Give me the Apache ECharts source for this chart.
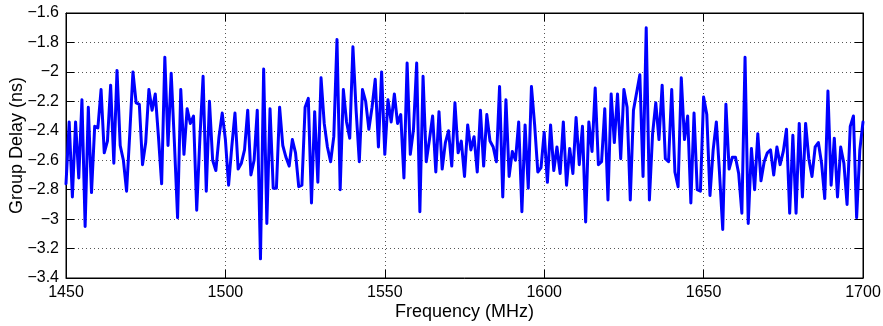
<!DOCTYPE html>
<html>
<head>
<meta charset="utf-8">
<script src="https://cdn.jsdelivr.net/npm/echarts@6/dist/echarts.min.js"></script>
<style>
html,body{margin:0;padding:0;background:#fff;}
#chart{width:883px;height:326px;}
</style>
</head>
<body>
<div id="chart"></div>
<script>
// Frequency axis: 1450..1700 MHz, 1 MHz step
var freqStart = 1450;
var freqStep = 1;
var xTicks = [1450, 1500, 1550, 1600, 1650, 1700];
var yTicks = [-3.4, -3.2, -3, -2.8, -2.6, -2.4, -2.2, -2, -1.8, -1.6];

// Group delay values (ns)
var delay = [
 -2.76,-2.34,-2.85,-2.34,-2.72,-2.19,-3.05,-2.24,-2.82,-2.37,
 -2.38,-2.12,-2.55,-2.47,-2.09,-2.62,-1.99,-2.50,-2.60,-2.81,
 -2.42,-2.00,-2.21,-2.22,-2.63,-2.48,-2.12,-2.26,-2.15,-2.44,
 -2.76,-1.90,-2.50,-2.01,-2.48,-2.99,-2.12,-2.56,-2.25,-2.35,
 -2.30,-2.94,-2.45,-2.03,-2.81,-2.20,-2.60,-2.67,-2.44,-2.28,
 -2.46,-2.77,-2.51,-2.28,-2.66,-2.62,-2.53,-2.26,-2.70,-2.60,
 -2.26,-3.27,-1.98,-3.03,-2.25,-2.79,-2.79,-2.24,-2.50,-2.58,
 -2.64,-2.46,-2.55,-2.78,-2.77,-2.24,-2.18,-2.89,-2.27,-2.75,
 -2.04,-2.35,-2.51,-2.61,-2.44,-1.78,-2.80,-2.12,-2.34,-2.45,
 -1.83,-2.26,-2.61,-2.12,-2.20,-2.39,-2.24,-2.05,-2.51,-2.00,
 -2.56,-2.19,-2.34,-2.15,-2.35,-2.29,-2.72,-1.94,-2.56,-2.39,
 -1.94,-2.95,-2.03,-2.61,-2.46,-2.30,-2.68,-2.27,-2.66,-2.48,
 -2.40,-2.64,-2.21,-2.55,-2.47,-2.71,-2.36,-2.53,-2.44,-2.68,
 -2.26,-2.64,-2.29,-2.47,-2.51,-2.61,-2.10,-2.85,-2.19,-2.71,
 -2.54,-2.60,-2.34,-2.95,-2.36,-2.79,-2.10,-2.36,-2.68,-2.65,
 -2.41,-2.75,-2.36,-2.67,-2.51,-2.69,-2.34,-2.77,-2.52,-2.69,
 -2.31,-2.63,-2.37,-3.02,-2.34,-2.54,-2.11,-2.63,-2.61,-2.25,
 -2.87,-2.15,-2.48,-2.15,-2.59,-2.12,-2.24,-2.87,-2.26,-2.14,
 -2.02,-2.71,-1.70,-2.87,-2.42,-2.21,-2.46,-2.09,-2.59,-2.61,
 -2.12,-2.68,-2.78,-2.04,-2.46,-2.30,-2.89,-2.28,-2.80,-2.81,
 -2.17,-2.29,-2.84,-2.53,-2.34,-2.69,-3.07,-2.22,-2.66,-2.58,
 -2.58,-2.69,-2.96,-1.90,-3.03,-2.52,-2.80,-2.42,-2.74,-2.61,
 -2.55,-2.53,-2.70,-2.51,-2.63,-2.54,-2.39,-2.96,-2.43,-2.96,
 -2.35,-2.85,-2.35,-2.59,-2.71,-2.51,-2.48,-2.62,-2.86,-2.13,
 -2.77,-2.45,-2.85,-2.51,-2.62,-2.90,-2.37,-2.30,-2.99,-2.53,
 -2.34
];

var points = delay.map(function (v, i) { return [freqStart + i * freqStep, v]; });

function fmtY(v) {
  var s = (Math.round(v * 10) / 10).toFixed(1);
  if (s.slice(-2) === '.0') s = s.slice(0, -2);
  return s.replace('-', '\u2212');
}
function fmtX(v) { return String(Math.round(v)); }

var FONT = 'Liberation Sans, Arial, Helvetica, sans-serif';
var chart = echarts.init(document.getElementById('chart'), null, {renderer: 'canvas'});
var gridLine = {show: true, lineStyle: {color: '#555', width: 1, type: [1, 3]}};
var tick = {show: true, inside: true, length: 8, lineStyle: {color: '#000', width: 1}};

chart.setOption({
  animation: false,
  backgroundColor: '#fff',
  grid: {left: 66, right: 20, top: 13, bottom: 48, containLabel: false, outerBoundsMode: 'none',
         show: true, borderColor: '#000', borderWidth: 1, backgroundColor: '#fff'},
  xAxis: [{
    type: 'value', min: xTicks[0], max: xTicks[xTicks.length - 1], interval: 50,
    position: 'bottom',
    name: 'Frequency (MHz)', nameLocation: 'middle', nameGap: 25, nameMoveOverlap: false,
    nameTextStyle: {fontFamily: FONT, fontSize: 18, color: '#000'},
    axisLine: {show: true, lineStyle: {color: '#000', width: 1}},
    axisTick: tick,
    axisLabel: {fontFamily: FONT, fontSize: 16, color: '#000', margin: 7, formatter: fmtX},
    splitLine: gridLine
  }, {
    type: 'value', min: xTicks[0], max: xTicks[xTicks.length - 1], interval: 50,
    position: 'top',
    axisLine: {show: true, lineStyle: {color: '#000', width: 1}},
    axisTick: tick, axisLabel: {show: false}, splitLine: {show: false}
  }],
  yAxis: [{
    type: 'value', min: yTicks[0], max: yTicks[yTicks.length - 1], interval: 0.2,
    position: 'left',
    name: 'Group Delay (ns)', nameLocation: 'middle', nameGap: 40, nameMoveOverlap: false,
    nameTextStyle: {fontFamily: FONT, fontSize: 18, color: '#000'},
    axisLine: {show: true, lineStyle: {color: '#000', width: 1}},
    axisTick: tick,
    axisLabel: {fontFamily: FONT, fontSize: 16, color: '#000', margin: 7, formatter: fmtY},
    splitLine: gridLine
  }, {
    type: 'value', min: yTicks[0], max: yTicks[yTicks.length - 1], interval: 0.2,
    position: 'right',
    axisLine: {show: true, lineStyle: {color: '#000', width: 1}},
    axisTick: tick, axisLabel: {show: false}, splitLine: {show: false}
  }],
  series: [{
    type: 'line', data: points, xAxisIndex: 0, yAxisIndex: 0,
    showSymbol: false, symbol: 'none',
    lineStyle: {color: '#0000ff', width: 3, join: 'round', cap: 'round'},
    itemStyle: {color: '#0000ff'}
  }]
});
</script>
</body>
</html>
